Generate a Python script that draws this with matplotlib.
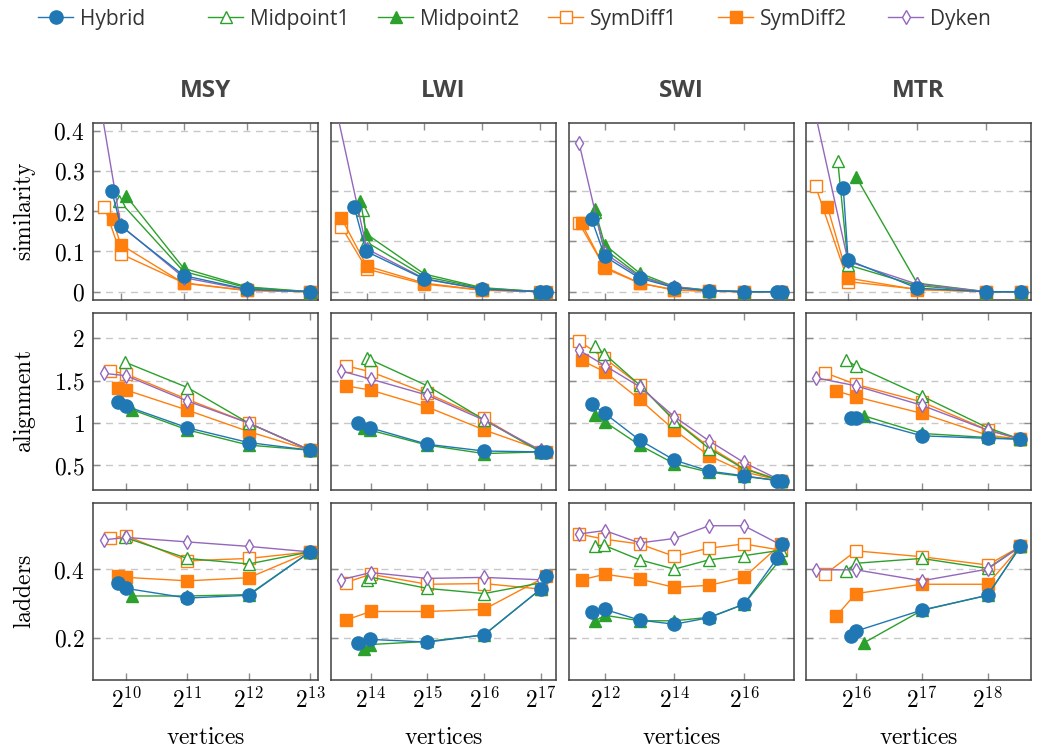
import numpy as np
import matplotlib
matplotlib.use('Agg')
import matplotlib.pyplot as plt
from matplotlib.ticker import FixedLocator, FuncFormatter, NullLocator

plt.rcParams['mathtext.fontset'] = 'cm'
plt.rcParams['font.family'] = ['Open Sans', 'DejaVu Sans']

datasets = ['MSY', 'LWI', 'SWI', 'MTR']
methods = ['Hybrid', 'Midpoint1', 'Midpoint2', 'SymDiff1', 'SymDiff2', 'Dyken']
metrics = ['similarity', 'alignment', 'ladders']

# log2 of the vertex count for every point of every method
msy_log2v = {
    'Hybrid':    [9.86, 10.0, 11, 12, 13],
    'Midpoint1': [9.98, 11, 12, 13],
    'Midpoint2': [10.09, 11, 12, 13],
    'SymDiff1':  [9.74, 10.0, 11, 12, 13],
    'SymDiff2':  [9.87, 10.0, 11, 12, 13],
    'Dyken':     [9.64, 10.0, 11, 12, 13],
}
lwi_log2v = {
    'Hybrid':    [13.78, 13.99, 15, 16, 17.0, 17.1],
    'Midpoint1': [13.94, 13.99, 15, 16, 17.0],
    'Midpoint2': [13.89, 13.99, 15, 16, 17.0],
    'SymDiff1':  [13.56, 14.0, 15, 16, 17.0],
    'SymDiff2':  [13.56, 14.0, 15, 16, 17.1],
    'Dyken':     [13.475, 14.0, 15, 16, 17.0],
}
swi_log2v = {
    'Hybrid':    [11.62, 12.0, 13, 14, 15, 16, 16.95, 17.1],
    'Midpoint1': [11.71, 11.98, 13, 14, 15, 16, 17.07],
    'Midpoint2': [11.71, 12.0, 13, 14, 15, 16, 17.07],
    'SymDiff1':  [11.26, 11.98, 13, 14, 15, 16, 17.07],
    'SymDiff2':  [11.33, 12.0, 13, 14, 15, 16, 17.07],
    'Dyken':     [11.26, 12.0, 13, 14, 15, 16, 17.07],
}
mtr_log2v = {
    'Hybrid':    [15.93, 16.0, 17, 18, 18.5],
    'Midpoint1': [15.85, 16.0, 17, 18, 18.5],
    'Midpoint2': [16.12, 17, 18, 18.5],
    'SymDiff1':  [15.53, 16.0, 17, 18, 18.5],
    'SymDiff2':  [15.70, 16.0, 17, 18, 18.5],
    'Dyken':     [15.39, 16.0, 17, 18, 18.5],
}

msy_similarity = {
    'Hybrid':    [0.249, 0.163, 0.040, 0.006, 0.0],
    'Midpoint1': [0.225, 0.050, 0.010, 0.0],
    'Midpoint2': [0.237, 0.058, 0.012, 0.0],
    'SymDiff1':  [0.211, 0.094, 0.022, 0.003, 0.0],
    'SymDiff2':  [0.180, 0.117, 0.021, 0.003, 0.0],
    'Dyken':     [0.500, 0.165, 0.035, 0.005, 0.0],
}
msy_alignment = {
    'Hybrid':    [1.25, 1.20, 0.945, 0.77, 0.68],
    'Midpoint1': [1.72, 1.42, 1.00, 0.68],
    'Midpoint2': [1.16, 0.92, 0.74, 0.68],
    'SymDiff1':  [1.617, 1.58, 1.28, 1.00, 0.68],
    'SymDiff2':  [1.417, 1.39, 1.153, 0.90, 0.68],
    'Dyken':     [1.587, 1.56, 1.26, 1.00, 0.68],
}
msy_ladders = {
    'Hybrid':    [0.359, 0.344, 0.316, 0.324, 0.45],
    'Midpoint1': [0.492, 0.431, 0.415, 0.45],
    'Midpoint2': [0.322, 0.322, 0.326, 0.45],
    'SymDiff1':  [0.490, 0.497, 0.424, 0.431, 0.45],
    'SymDiff2':  [0.379, 0.376, 0.366, 0.375, 0.45],
    'Dyken':     [0.485, 0.492, 0.479, 0.466, 0.45],
}

lwi_similarity = {
    'Hybrid':    [0.169, 0.080, 0.025, 0.005, 0.0, 0.0],
    'Midpoint1': [0.162, 0.099, 0.030, 0.007, 0.0],
    'Midpoint2': [0.181, 0.115, 0.035, 0.008, 0.0],
    'SymDiff1':  [0.129, 0.045, 0.015, 0.003, 0.0],
    'SymDiff2':  [0.146, 0.051, 0.017, 0.003, 0.0],
    'Dyken':     [0.360, 0.085, 0.026, 0.005, 0.0],
}
lwi_alignment = {
    'Hybrid':    [1.00, 0.945, 0.75, 0.67, 0.66, 0.66],
    'Midpoint1': [1.77, 1.75, 1.44, 1.04, 0.66],
    'Midpoint2': [0.937, 0.917, 0.74, 0.64, 0.66],
    'SymDiff1':  [1.677, 1.606, 1.35, 1.055, 0.66],
    'SymDiff2':  [1.44, 1.39, 1.19, 0.92, 0.66],
    'Dyken':     [1.617, 1.52, 1.33, 1.035, 0.68],
}
lwi_ladders = {
    'Hybrid':    [0.186, 0.196, 0.188, 0.209, 0.342, 0.379],
    'Midpoint1': [0.367, 0.377, 0.344, 0.329, 0.360],
    'Midpoint2': [0.169, 0.181, 0.190, 0.209, 0.342],
    'SymDiff1':  [0.361, 0.385, 0.356, 0.358, 0.342],
    'SymDiff2':  [0.252, 0.277, 0.277, 0.283, 0.379],
    'Dyken':     [0.369, 0.390, 0.373, 0.376, 0.369],
}

swi_similarity = {
    'Hybrid':    [0.144, 0.070, 0.027, 0.008, 0.002, 0.0, 0.0, 0.0],
    'Midpoint1': [0.158, 0.085, 0.032, 0.009, 0.002, 0.0, 0.0],
    'Midpoint2': [0.164, 0.093, 0.037, 0.010, 0.003, 0.0, 0.0],
    'SymDiff1':  [0.136, 0.050, 0.017, 0.004, 0.001, 0.0, 0.0],
    'SymDiff2':  [0.136, 0.0465, 0.017, 0.003, 0.001, 0.0, 0.0],
    'Dyken':     [0.295, 0.076, 0.030, 0.010, 0.002, 0.0, 0.0],
}
swi_alignment = {
    'Hybrid':    [1.22, 1.115, 0.80, 0.563, 0.433, 0.378, 0.32, 0.32],
    'Midpoint1': [1.91, 1.82, 1.45, 1.03, 0.70, 0.46, 0.32],
    'Midpoint2': [1.095, 1.015, 0.74, 0.52, 0.42, 0.37, 0.32],
    'SymDiff1':  [1.968, 1.77, 1.45, 1.035, 0.72, 0.47, 0.32],
    'SymDiff2':  [1.74, 1.606, 1.28, 0.917, 0.614, 0.425, 0.32],
    'Dyken':     [1.86, 1.68, 1.43, 1.075, 0.79, 0.535, 0.32],
}
swi_ladders = {
    'Hybrid':    [0.276, 0.283, 0.252, 0.240, 0.259, 0.298, 0.431, 0.473],
    'Midpoint1': [0.468, 0.469, 0.427, 0.400, 0.427, 0.439, 0.455],
    'Midpoint2': [0.249, 0.266, 0.250, 0.250, 0.260, 0.298, 0.431],
    'SymDiff1':  [0.502, 0.487, 0.473, 0.437, 0.461, 0.473, 0.455],
    'SymDiff2':  [0.369, 0.385, 0.371, 0.347, 0.353, 0.376, 0.473],
    'Dyken':     [0.502, 0.512, 0.476, 0.489, 0.526, 0.526, 0.470],
}

mtr_similarity = {
    'Hybrid':    [0.206, 0.063, 0.007, 0.0, 0.0],
    'Midpoint1': [0.260, 0.053, 0.012, 0.0, 0.0],
    'Midpoint2': [0.227, 0.017, 0.0, 0.0],
    'SymDiff1':  [0.209, 0.020, 0.005, 0.0, 0.0],
    'SymDiff2':  [0.169, 0.027, 0.004, 0.0, 0.0],
    'Dyken':     [0.437, 0.060, 0.015, 0.0, 0.0],
}
mtr_alignment = {
    'Hybrid':    [1.063, 1.063, 0.85, 0.82, 0.81],
    'Midpoint1': [1.744, 1.673, 1.32, 0.945, 0.81],
    'Midpoint2': [1.086, 0.878, 0.83, 0.81],
    'SymDiff1':  [1.594, 1.457, 1.25, 0.92, 0.81],
    'SymDiff2':  [1.38, 1.31, 1.115, 0.858, 0.81],
    'Dyken':     [1.535, 1.44, 1.21, 0.917, 0.81],
}
mtr_ladders = {
    'Hybrid':    [0.206, 0.220, 0.281, 0.324, 0.466],
    'Midpoint1': [0.395, 0.417, 0.431, 0.402, 0.466],
    'Midpoint2': [0.186, 0.280, 0.324, 0.466],
    'SymDiff1':  [0.385, 0.453, 0.436, 0.412, 0.466],
    'SymDiff2':  [0.264, 0.329, 0.356, 0.356, 0.466],
    'Dyken':     [0.398, 0.398, 0.366, 0.400, 0.466],
}

xticks_exp = {'MSY': [10, 11, 12, 13], 'LWI': [14, 15, 16, 17],
              'SWI': [12, 14, 16], 'MTR': [16, 17, 18]}
yticks = {'similarity': [0, 0.1, 0.2, 0.3, 0.4],
          'alignment': [0.5, 1, 1.5, 2],
          'ladders': [0.2, 0.4]}

log2v = {'MSY': msy_log2v, 'LWI': lwi_log2v, 'SWI': swi_log2v, 'MTR': mtr_log2v}
values = {
    'MSY': {'similarity': msy_similarity, 'alignment': msy_alignment, 'ladders': msy_ladders},
    'LWI': {'similarity': lwi_similarity, 'alignment': lwi_alignment, 'ladders': lwi_ladders},
    'SWI': {'similarity': swi_similarity, 'alignment': swi_alignment, 'ladders': swi_ladders},
    'MTR': {'similarity': mtr_similarity, 'alignment': mtr_alignment, 'ladders': mtr_ladders},
}

blue, green, orange, purple = '#1f77b4', '#2ca02c', '#ff7f0e', '#9467bd'
style = {
    'Hybrid':    dict(color=blue, marker='o', ms=9.5, mfc=blue, zorder=8),
    'Midpoint1': dict(color=green, marker='^', ms=8, mfc='white', zorder=5),
    'Midpoint2': dict(color=green, marker='^', ms=8, mfc=green, zorder=6),
    'SymDiff1':  dict(color=orange, marker='s', ms=8.5, mfc='white', zorder=3),
    'SymDiff2':  dict(color=orange, marker='s', ms=8.5, mfc=orange, zorder=4),
    'Dyken':     dict(color=purple, marker='d', ms=7, mfc='white', zorder=7),
}

# axis ranges (log2 of vertices), first row / other rows
xlim_exp = {'MSY': [(9.56, 13.13), (9.46, 13.13)],
            'LWI': [(13.38, 17.28), (13.30, 17.27)],
            'SWI': [(10.97, 17.44), (10.97, 17.44)],
            'MTR': [(15.39, 18.65), (15.24, 18.66)]}
ylims = {'similarity': (-0.0206, 0.419), 'alignment': (0.21, 2.30), 'ladders': (0.078, 0.592)}
sim_ylim_other = (-0.0165, 0.335)

W, H = 1049, 751
fig = plt.figure(figsize=(W / 100, H / 100), dpi=100)

col_left = [93, 331, 569, 806]
row_top = [123, 313, 503]
aw, ah = 225, 177

def ylab(v):
    return r'$%g$' % v

handles = []
for r, metric in enumerate(metrics):
    for c, ds in enumerate(datasets):
        ax = fig.add_axes([col_left[c] / W, 1 - (row_top[r] + ah) / H, aw / W, ah / H])
        for m in methods:
            st = style[m]
            xs = np.power(2.0, log2v[ds][m])
            line, = ax.plot(xs, values[ds][metric][m], color=st['color'], lw=1.0,
                            marker=st['marker'], ms=st['ms'], mfc=st['mfc'], mec=st['color'],
                            mew=1.0, zorder=st['zorder'], label=m)
            if r == 0 and c == 0:
                handles.append(line)
        ax.set_xscale('log', base=2)
        lo, hi = xlim_exp[ds][0 if r == 0 else 1]
        ax.set_xlim(2.0 ** lo, 2.0 ** hi)
        if metric == 'similarity' and c > 0:
            ax.set_ylim(*sim_ylim_other)
            yt = [0, 0.1, 0.2, 0.3]
        else:
            ax.set_ylim(*ylims[metric])
            yt = yticks[metric]
        ax.yaxis.set_major_locator(FixedLocator(yt))
        ax.xaxis.set_major_locator(FixedLocator([2.0 ** e for e in xticks_exp[ds]]))
        ax.xaxis.set_minor_locator(NullLocator())
        ax.yaxis.set_minor_locator(NullLocator())
        ax.grid(axis='y', color='#c8c8c8', linestyle=(0, (5, 4)), linewidth=1.0)
        ax.set_axisbelow(True)
        ax.tick_params(direction='in', length=5, width=1, color='#8c8c8c',
                       top=True, right=True, labelsize=17, pad=6)
        for sp in ax.spines.values():
            sp.set_color('#404040')
            sp.set_linewidth(1.1)
        if c == 0:
            ax.yaxis.set_major_formatter(FuncFormatter(lambda v, p: ylab(v)))
        else:
            ax.set_yticklabels([])
        if r == 2:
            ax.xaxis.set_major_formatter(FuncFormatter(lambda v, p: r'$2^{%d}$' % round(np.log2(v))))
            ax.set_xlabel(r'$\mathrm{vertices}$', fontsize=17, labelpad=9)
        else:
            ax.set_xticklabels([])
        if r == 0:
            ax.set_title(ds, fontsize=17.5, fontweight='bold', color='#444444', pad=19)

for r, metric in enumerate(metrics):
    fig.text(25 / W, 1 - (row_top[r] + ah / 2) / H, r'$\mathrm{%s}$' % metric,
             rotation=90, ha='center', va='center', fontsize=17)

# legend entries on an even 170 px pitch
for i, (h, m) in enumerate(zip(handles, methods)):
    fig.legend([h], [m], loc='center left', bbox_to_anchor=((38 + 170 * i) / W, 1 - 19 / H),
               frameon=False, fontsize=15, handlelength=1.7, handletextpad=0.3,
               borderpad=0, borderaxespad=0, labelcolor='#333333')

fig.savefig('out.png', dpi=100)
